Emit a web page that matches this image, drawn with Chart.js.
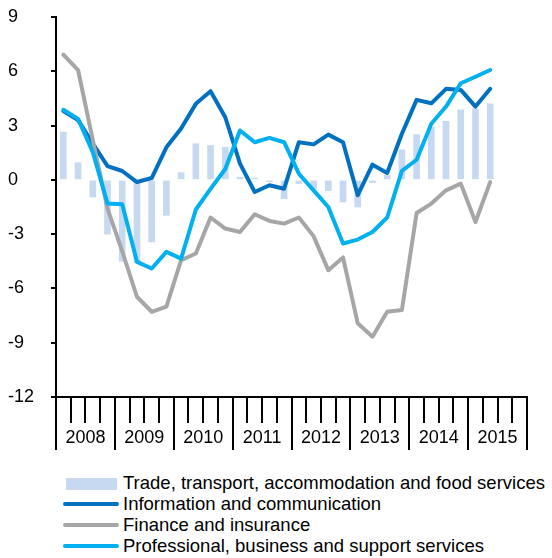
<!DOCTYPE html>
<html>
<head>
<meta charset="utf-8">
<script src="https://cdn.jsdelivr.net/npm/chart.js@4"></script>
<style>
  html, body { margin: 0; padding: 0; background: #fff; }
  body { width: 552px; height: 558px; position: relative; overflow: hidden;
         font-family: "Liberation Sans", Arial, sans-serif; }
  #wrap { position: absolute; left: 0; top: 0; width: 552px; height: 465px; }
  .row { position: absolute; left: 0; height: 21px; line-height: 21px; font-size: 18.5px; color: #000; white-space: nowrap; }
  .row span { position: absolute; left: 123px; top: 0; }
  .sw { position: absolute; }
</style>
</head>
<body>
<div id="wrap"><canvas id="growthChart" width="552" height="465"></canvas></div>

<div class="row" style="top:472px"><div class="sw" style="left:66px;top:6px;width:51px;height:12px;background:#C6D9F1"></div><span>Trade, transport, accommodation and food services</span></div>
<div class="row" style="top:493px"><div class="sw" style="left:63px;top:9px;width:56px;height:4px;border-radius:2px;background:#0070C0"></div><span>Information and communication</span></div>
<div class="row" style="top:514px"><div class="sw" style="left:63px;top:9px;width:56px;height:4px;border-radius:2px;background:#A6A6A6"></div><span>Finance and insurance</span></div>
<div class="row" style="top:535px"><div class="sw" style="left:63px;top:9px;width:56px;height:4px;border-radius:2px;background:#00B0F0"></div><span>Professional, business and support services</span></div>

<script>
// quarterly, 2008 Q1 .. 2015 Q4 (data runs to 2015 Q2)
const years = ["2008", "2009", "2010", "2011", "2012", "2013", "2014", "2015"];
const quarters = [];
years.forEach(y => { for (let q = 1; q <= 4; q++) quarters.push(y + " Q" + q); });

const yTicks = [-12, -9, -6, -3, 0, 3, 6, 9];

const trade = [2.64, 0.95, -0.95, -3.0, -4.5, -4.6, -3.43, -1.96, 0.4, 2.0,
               1.9, 1.8, 0.15, 0.1, -0.1, -1.04, -0.2, -0.5, -0.6, -1.22,
               -1.5, -0.15, 0.25, 1.66, 2.5, 2.9, 3.24, 3.87, 3.92, 4.2];
const info = [3.8, 3.3, 2.0, 0.76, 0.49, -0.12, 0.1, 1.8, 2.84, 4.2,
              4.9, 3.46, 0.9, -0.67, -0.3, -0.49, 2.08, 1.96, 2.5, 2.08,
              -0.85, 0.84, 0.38, 2.55, 4.42, 4.23, 5.03, 4.97, 4.05, 5.03];
const finance = [6.92, 6.07, 2.2, -1.59, -3.95, -6.46, -7.29, -7.01, -4.44, -4.07,
                 -2.08, -2.69, -2.88, -1.9, -2.27, -2.42, -2.08, -3.11, -4.99, -4.29,
                 -7.93, -8.67, -7.29, -7.19, -1.83, -1.31, -0.58, -0.21, -2.33, -0.12];
const professional = [3.87, 3.37, 1.53, -1.31, -1.35, -4.53, -4.9, -3.98, -4.35, -1.64,
                      -0.5, 0.6, 2.73, 2.08, 2.32, 2.08, 0.34, -0.58, -1.5, -3.52,
                      -3.3, -2.88, -2.08, 0.5, 1.11, 3.1, 4.05, 5.34, 5.7, 6.07];

const FONT = '"Liberation Sans", Arial, sans-serif';

// quarter ticks below the axis, long ones at year breaks, year names centred
const quarterTicks = {
    id: "quarterTicks",
    afterDraw(chart) {
        const xs = chart.scales.x;
        const ctx = chart.ctx;
        const step = xs.getPixelForValue(1) - xs.getPixelForValue(0);
        const first = xs.getPixelForValue(0) - step / 2;
        ctx.save();
        ctx.strokeStyle = "#000";
        ctx.lineWidth = 2;
        for (let i = 0; i <= quarters.length; i++) {
            const px = Math.round(first + i * step);
            const len = i % 4 === 0 ? 53 : 26;
            ctx.beginPath();
            ctx.moveTo(px, xs.top);
            ctx.lineTo(px, xs.top + len);
            ctx.stroke();
        }
        ctx.fillStyle = "#000";
        ctx.font = "18px " + FONT;
        ctx.textAlign = "center";
        ctx.textBaseline = "middle";
        years.forEach((y, k) => {
            const c = (xs.getPixelForValue(4 * k + 1) + xs.getPixelForValue(4 * k + 2)) / 2;
            ctx.fillText(y, c, xs.top + 41);
        });
        ctx.restore();
    }
};

function lineSet(label, data, color, order) {
    return {
        type: "line",
        label: label,
        data: data,
        borderColor: color,
        backgroundColor: color,
        borderWidth: 4,
        pointRadius: 0,
        tension: 0,
        borderJoinStyle: "round",
        borderCapStyle: "round",
        order: order
    };
}

new Chart(document.getElementById("growthChart"), {
    type: "bar",
    data: {
        labels: quarters,
        datasets: [
            lineSet("Professional, business and support services", professional, "#00B0F0", 1),
            lineSet("Finance and insurance", finance, "#A6A6A6", 2),
            lineSet("Information and communication", info, "#0070C0", 3),
            {
                type: "bar",
                label: "Trade, transport, accommodation and food services",
                data: trade,
                backgroundColor: "#C6D9F1",
                barThickness: 6,
                order: 4
            }
        ]
    },
    options: {
        responsive: false,
        animation: false,
        layout: { padding: { top: 17, right: 25, left: 8, bottom: 0 } },
        plugins: {
            legend: { display: false },
            tooltip: { enabled: false }
        },
        scales: {
            x: {
                offset: true,
                grid: { display: false },
                ticks: { display: false },
                border: { display: true, color: "#000", width: 2 },
                afterFit(scale) { scale.height = 68; }
            },
            y: {
                min: -12,
                max: 9,
                afterBuildTicks(scale) { scale.ticks = yTicks.map(v => ({ value: v })); },
                ticks: {
                    color: "#000",
                    font: { family: FONT, size: 18 },
                    crossAlign: "far",
                    padding: 4
                },
                grid: { drawOnChartArea: false, drawTicks: true, tickLength: 5, color: "#000", lineWidth: 2 },
                border: { display: true, color: "#000", width: 2 },
                afterFit(scale) { scale.width = 48; }
            }
        }
    },
    plugins: [quarterTicks]
});
</script>
</body>
</html>
